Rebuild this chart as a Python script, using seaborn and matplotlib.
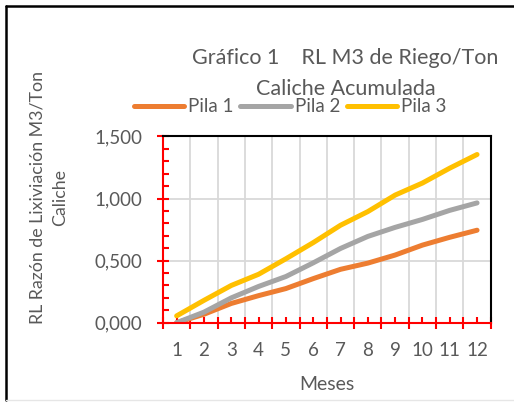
import numpy as np
import pandas as pd
import matplotlib
matplotlib.use('Agg')
import matplotlib.pyplot as plt
from matplotlib.lines import Line2D
from matplotlib.ticker import FuncFormatter, MultipleLocator
import seaborn as sns

# datos
meses = list(range(1, 13))
pila_1 = [0.0, 0.068, 0.155, 0.218, 0.275, 0.355, 0.43, 0.48, 0.545, 0.625, 0.688, 0.745]
pila_2 = [0.0, 0.085, 0.2, 0.292, 0.372, 0.482, 0.598, 0.695, 0.768, 0.832, 0.905, 0.965]
pila_3 = [0.055, 0.18, 0.3, 0.39, 0.515, 0.645, 0.785, 0.895, 1.028, 1.125, 1.245, 1.355]
series = ['Pila 1', 'Pila 2', 'Pila 3']
colores = ['#ED7D31', '#A5A5A5', '#FFC000']
y_ticks = [0.0, 0.5, 1.0, 1.5]

df = pd.DataFrame({
    'Mes': meses * 3,
    'RL': pila_1 + pila_2 + pila_3,
    'Serie': np.repeat(series, len(meses)),
})

sns.set_style('white')
plt.rcParams['font.family'] = ['Lato', 'DejaVu Sans']
gris_texto = '#595959'

W, H = 514, 403
fig = plt.figure(figsize=(W / 100, H / 100), dpi=100)
ax = fig.add_axes([163 / W, 1 - 322.7 / H, (490.7 - 163) / W, (322.7 - 136.5) / H])

sns.lineplot(data=df, x='Mes', y='RL', hue='Serie', palette=colores,
             linewidth=3.6, ax=ax)
for ln in ax.lines:
    ln.set_solid_capstyle('round')
    ln.set_solid_joinstyle('round')

sns.move_legend(ax, 'center', bbox_to_anchor=(290 / W, 1 - 107 / H),
                bbox_transform=fig.transFigure, ncol=3, frameon=False,
                title=None, fontsize=13.5, handlelength=2.7, handletextpad=0.2,
                columnspacing=0.35, labelcolor=gris_texto)
for ln in ax.get_legend().get_lines():
    ln.set_solid_capstyle('round')
    ln.set_linewidth(3.6)

# ejes
ax.set_xlim(0.5, 12.5)
ax.set_ylim(0, 1.5)
ax.set_xlabel('')
ax.set_ylabel('')
ax.set_xticks(np.arange(0.5, 12.6, 1))
ax.set_xticklabels([])
ax.set_xticks(meses, minor=True)
ax.set_xticklabels([str(m) for m in meses], minor=True)
ax.set_yticks(y_ticks)
ax.yaxis.set_major_formatter(FuncFormatter(lambda v, p: f'{v:.3f}'.replace('.', ',')))
ax.yaxis.set_minor_locator(MultipleLocator(0.1))

ax.grid(which='major', color='#d9d9d9', linewidth=1.3)
ax.set_axisbelow(True)

ax.tick_params(which='major', direction='inout', length=8.6, width=1.5,
               color='red', labelsize=13.5, labelcolor=gris_texto)
ax.tick_params(which='minor', direction='in', length=4, width=1.5, color='red',
               labelsize=13.5, labelcolor=gris_texto)
ax.tick_params(axis='y', which='major', pad=10.5)
ax.tick_params(axis='x', which='minor', pad=14)
ax.tick_params(bottom=True, left=True, which='both')

for lado in ['left', 'bottom']:
    ax.spines[lado].set_color('red')
    ax.spines[lado].set_linewidth(1.5)
for lado in ['top', 'right']:
    ax.spines[lado].set_color('black')
    ax.spines[lado].set_linewidth(1.5)

# textos
fig.text(345 / W, 1 - 58 / H, 'Gráfico 1    RL M3 de Riego/Ton', ha='center',
         va='center', fontsize=15.5, color=gris_texto)
fig.text(346 / W, 1 - 89 / H, 'Caliche Acumulada', ha='center', va='center',
         fontsize=15.5, color=gris_texto)
fig.text(327 / W, 1 - 385 / H, 'Meses', ha='center', va='center',
         fontsize=14, color=gris_texto)
fig.text(49 / W, 1 - 197 / H, 'RL Razón de Lixiviación M3/Ton\nCaliche',
         rotation=90, ha='center', va='center', multialignment='center',
         fontsize=12.8, color=gris_texto, linespacing=1.5)

# borde del gráfico
fig.add_artist(Line2D([6 / W, 6 / W], [3 / H, 1 - 6 / H], transform=fig.transFigure,
                      color='black', lw=1.8))
fig.add_artist(Line2D([6 / W, 1], [1 - 6 / H, 1 - 6 / H], transform=fig.transFigure,
                      color='black', lw=1.8))
fig.add_artist(Line2D([6 / W, 1], [3 / H, 3 / H], transform=fig.transFigure,
                      color='#e6e6e6', lw=1))

fig.savefig('out.png', dpi=100)
